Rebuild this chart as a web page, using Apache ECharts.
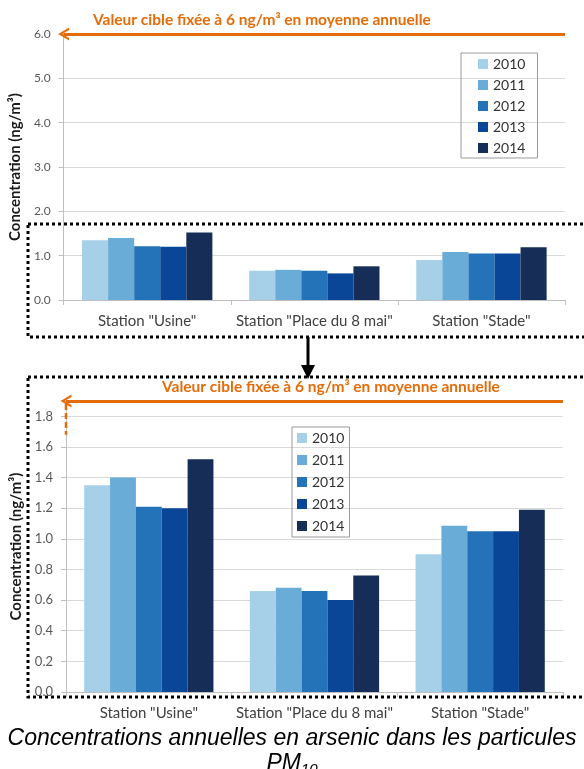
<!DOCTYPE html>
<html><head><meta charset="utf-8">
<script src="https://cdn.jsdelivr.net/npm/echarts@6/dist/echarts.min.js"></script>
<style>html,body{margin:0;padding:0;background:#fff}#c{width:584px;height:769px}</style>
</head><body><div id="c"></div>
<script>
// ---- data ----
const stations = ['Station "Usine"', 'Station "Place du 8 mai"', 'Station "Stade"'];
const years = ['2010', '2011', '2012', '2013', '2014'];
const v2010 = [1.35, 0.66, 0.90];
const v2011 = [1.40, 0.68, 1.085];
const v2012 = [1.21, 0.66, 1.05];
const v2013 = [1.20, 0.60, 1.05];
const v2014 = [1.52, 0.76, 1.19];
const yearValues = [v2010, v2011, v2012, v2013, v2014];
const targetValue = 6;          // valeur cible (ng/m3)
const topAxis = { min: 0, max: 6, interval: 1 };
const zoomAxis = { min: 0, max: 1.9, interval: 0.2 };
const zoomDashEnd = 1.68;
const targetText = 'Valeur cible fixée à 6 ng/m³ en moyenne annuelle';
const yName = 'Concentration (ng/m³)';
const caption = 'Concentrations annuelles en arsenic dans les particules';

// ---- styles ----
const colors = ['#a6cfe8', '#69acd8', '#2473b8', '#0a4698', '#152d57'];
const orange = '#E46C0A';
const FONT = 'Lato';
const chevron = 'path://M0,16 L10,0 L20,16 L16,16 L10,6 L4,16 Z';

const chart = echarts.init(document.getElementById('c'), null, { renderer: 'canvas' });

function xAxisFor(g) {
  return {
    type: 'category', gridIndex: g, data: stations,
    axisLine: { lineStyle: { color: '#bfbfbf', width: 1 } },
    axisTick: { show: true, length: 5, lineStyle: { color: '#bfbfbf' } },
    axisLabel: { fontFamily: FONT, fontSize: 15, color: '#404040', margin: 14, interval: 0 }
  };
}
function yAxisFor(g, ax, gap, fs) {
  return {
    type: 'value', gridIndex: g, min: ax.min, max: ax.max, interval: ax.interval,
    name: yName, nameLocation: 'middle', nameGap: gap, nameRotate: 90,
    nameTextStyle: { fontFamily: FONT, fontSize: 15, fontWeight: 'bold', color: '#1a1a1a' },
    axisLine: { show: true, lineStyle: { color: '#bfbfbf', width: 1 } },
    axisTick: { show: true, length: 5, lineStyle: { color: '#bfbfbf' } },
    axisLabel: { fontFamily: FONT, fontSize: fs, color: '#595959', margin: 13, showMaxLabel: g === 0,
      formatter: v => v.toFixed(1) },
    splitLine: { show: true, lineStyle: { color: '#d9d9d9', width: 1 } }
  };
}
function seriesFor(g, lineValue) {
  return years.map((y, i) => {
    const s = {
      type: 'bar', name: y, xAxisIndex: g, yAxisIndex: g, data: yearValues[i],
      itemStyle: { color: colors[i] }, barGap: '0%', barCategoryGap: '22%', silent: true
    };
    if (i === 0) {
      s.markLine = {
        silent: true, symbol: [chevron, 'none'], symbolSize: [13, 11], symbolOffset: [0, 5],
        lineStyle: { color: orange, width: 3, type: 'solid' },
        label: { show: false }, emphasis: { disabled: true },
        data: [{ yAxis: lineValue }]
      };
    }
    return s;
  });
}
function legendFor(left, top, gap, pad) {
  return {
    data: years, left, top, orient: 'vertical', icon: 'rect', itemWidth: 10, itemHeight: 10,
    itemGap: gap, padding: pad, borderColor: '#9a9a9a', borderWidth: 1, selectedMode: false,
    textStyle: { fontFamily: FONT, fontSize: 14, color: '#333', lineHeight: 14 }
  };
}

chart.setOption({
  animation: false,
  title: [
    { text: caption, left: 'center', top: 722,
      textStyle: { fontFamily: 'Liberation Sans', fontStyle: 'italic', fontWeight: 'normal', fontSize: 23, color: '#000' } },
    { text: '{a|PM}{b|10}', left: 'center', top: 746,
      textStyle: { fontWeight: 'normal', rich: {
        a: { fontFamily: 'Liberation Sans', fontStyle: 'italic', fontWeight: 'normal', fontSize: 23, color: '#000', lineHeight: 26 },
        b: { fontFamily: 'Liberation Sans', fontStyle: 'italic', fontWeight: 'normal', fontSize: 15, color: '#000', lineHeight: 26, verticalAlign: 'bottom', padding: [8, 0, 0, 0] }
      } } }
  ],
  grid: [
    { left: 63, top: 34, width: 502, height: 266 },
    { left: 66, top: 401, width: 497, height: 291 }
  ],
  legend: [legendFor(461, 53, 7, [4, 12, 3, 17]), legendFor(292, 427, 8, [4, 5, 4, 5])],
  xAxis: [xAxisFor(0), xAxisFor(1)],
  yAxis: [yAxisFor(0, topAxis, 32, 12), yAxisFor(1, zoomAxis, 33, 13)],
  series: [...seriesFor(0, targetValue), ...seriesFor(1, zoomAxis.max)]
});

// ---- annotations (decoration placed from the axes) ----
const yTop = chart.convertToPixel({ yAxisIndex: 0 }, targetValue);
const yZoom = chart.convertToPixel({ yAxisIndex: 1 }, zoomAxis.max);
const yDash = chart.convertToPixel({ yAxisIndex: 1 }, zoomDashEnd);
const yTop0 = chart.convertToPixel({ yAxisIndex: 0 }, 0);
const yZoom0 = chart.convertToPixel({ yAxisIndex: 1 }, 0);
const dot = { stroke: '#000', lineWidth: 3, lineDash: [3, 3], fill: null };
const tStyle = { fontFamily: FONT, fontWeight: 'bold', fontSize: 15.5, fill: orange, textVerticalAlign: 'middle' };

chart.setOption({
  graphic: [
    { type: 'text', left: 93, top: yTop - 22, style: Object.assign({ text: targetText }, tStyle), z: 10 },
    { type: 'text', left: 162, top: yZoom - 22, style: Object.assign({ text: targetText }, tStyle), z: 10 },
    { type: 'line', shape: { x1: 66, y1: yZoom + 3, x2: 66, y2: yDash }, style: { stroke: orange, lineWidth: 2.5, lineDash: [6, 3] }, z: 10 },
    { type: 'rect', shape: { x: 28, y: yTop0 - 76, width: 600, height: 113 }, style: dot, z: 20 },
    { type: 'rect', shape: { x: 28, y: 377, width: 600, height: yZoom0 + 5 - 377 }, style: dot, z: 20 },
    { type: 'line', shape: { x1: 308, y1: yTop0 + 37, x2: 308, y2: 367 }, style: { stroke: '#000', lineWidth: 3 }, z: 20 },
    { type: 'polygon', shape: { points: [[301, 365], [315, 365], [308, 379]] }, style: { fill: '#000' }, z: 20 }
  ]
});
</script>
</body></html>
